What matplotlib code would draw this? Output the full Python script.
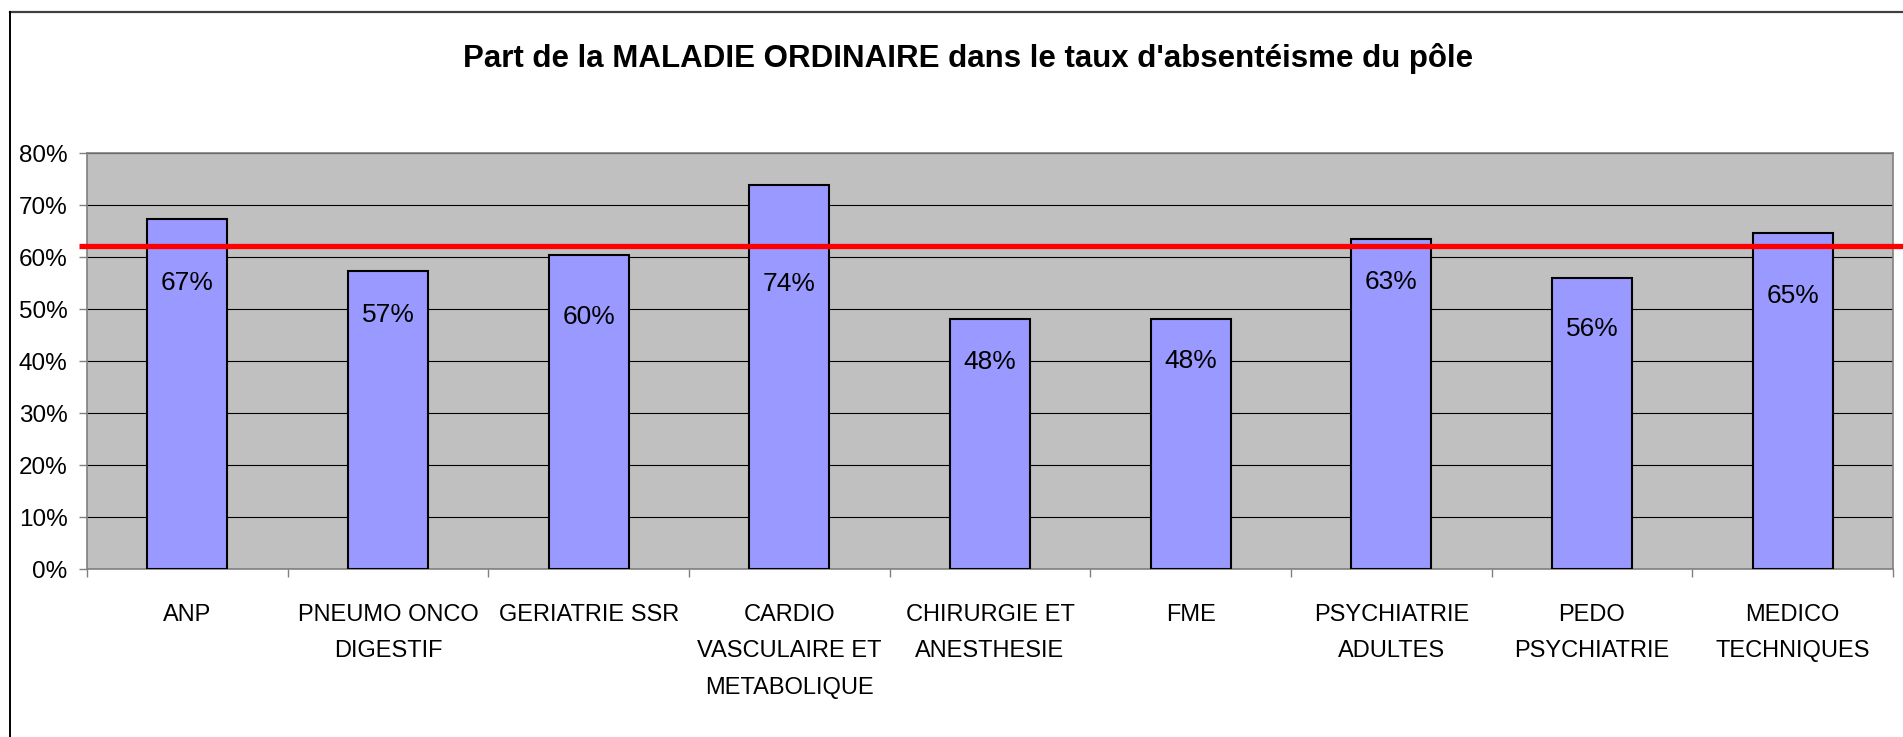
import numpy as np
import matplotlib
matplotlib.use('Agg')
import matplotlib.pyplot as plt
from matplotlib import font_manager
from matplotlib.transforms import blended_transform_factory
from matplotlib.lines import Line2D

# Données du graphique
poles = ['ANP', 'PNEUMO ONCO\nDIGESTIF', 'GERIATRIE SSR', 'CARDIO\nVASCULAIRE ET\nMETABOLIQUE',
         'CHIRURGIE ET\nANESTHESIE', 'FME', 'PSYCHIATRIE\nADULTES', 'PEDO\nPSYCHIATRIE',
         'MEDICO\nTECHNIQUES']
part_maladie = [0.673, 0.574, 0.603, 0.738, 0.481, 0.481, 0.635, 0.560, 0.647]
moyenne = 0.621
etiquettes = ['67%', '57%', '60%', '74%', '48%', '48%', '63%', '56%', '65%']

# position verticale des étiquettes (placées à la main dans l'original)
label_y = [0.550, 0.488, 0.485, 0.549, 0.399, 0.400, 0.552, 0.462, 0.525]

noms = {f.name for f in font_manager.fontManager.ttflist}
police = 'Liberation Sans' if 'Liberation Sans' in noms else 'DejaVu Sans'

W, H = 1903, 737
fig = plt.figure(figsize=(W / 100, H / 100), dpi=100)
fig.patch.set_facecolor('white')

x0, x1, y0, y1 = 87, 1893, 153, 569
ax = fig.add_axes([x0 / W, 1 - y1 / H, (x1 - x0) / W, (y1 - y0) / H])
ax.set_facecolor('#C0C0C0')

x = np.arange(len(poles))
ax.bar(x, part_maladie, width=0.40, color='#9999FF', edgecolor='black', linewidth=1.5, zorder=3)

for xi, yl, txt in zip(x, label_y, etiquettes):
    ax.text(xi, yl, txt, ha='center', va='center', fontsize=19, family=police, zorder=4)

# ligne de référence rouge
trans = blended_transform_factory(ax.transAxes, ax.transData)
ax.plot([-0.0045, 1.006], [moyenne, moyenne], color='#FF0000', linewidth=3.8,
        transform=trans, clip_on=False, zorder=5, solid_capstyle='butt')

ax.set_xlim(-0.5, len(poles) - 0.5)
ax.set_ylim(0, 0.8)
ax.set_yticks(np.arange(0, 0.81, 0.1))
ax.set_yticklabels([f'{int(round(v * 100))}%' for v in np.arange(0, 0.81, 0.1)],
                   fontsize=17.5, family=police)
ax.yaxis.grid(True, color='black', linewidth=0.8, zorder=1)
ax.set_axisbelow(True)

ax.set_xticks(x)
ax.set_xticklabels(poles, fontsize=17, family=police, linespacing=1.85)
ax.set_xticks(np.arange(-0.5, len(poles)), minor=True)
ax.tick_params(axis='x', which='major', length=0, pad=25)
ax.tick_params(axis='x', which='minor', length=6, color='#808080', width=1)
ax.tick_params(axis='y', length=6, color='#808080', width=1, pad=8)

for s in ax.spines.values():
    s.set_color('#808080')
    s.set_linewidth(1.2)

# titre
fig.text(968 / W, 1 - 58 / H, "Part de la MALADIE ORDINAIRE dans le taux d'absentéisme du pôle",
         ha='center', va='center', fontsize=22.5, fontweight='bold', family=police)

# cadre du graphique
fig.add_artist(Line2D([10 / W, 1], [1 - 12 / H, 1 - 12 / H], color='#404040', linewidth=1.6))
fig.add_artist(Line2D([10 / W, 10 / W], [0, 1 - 12 / H], color='black', linewidth=1.4))

fig.savefig('out.png', dpi=100)
